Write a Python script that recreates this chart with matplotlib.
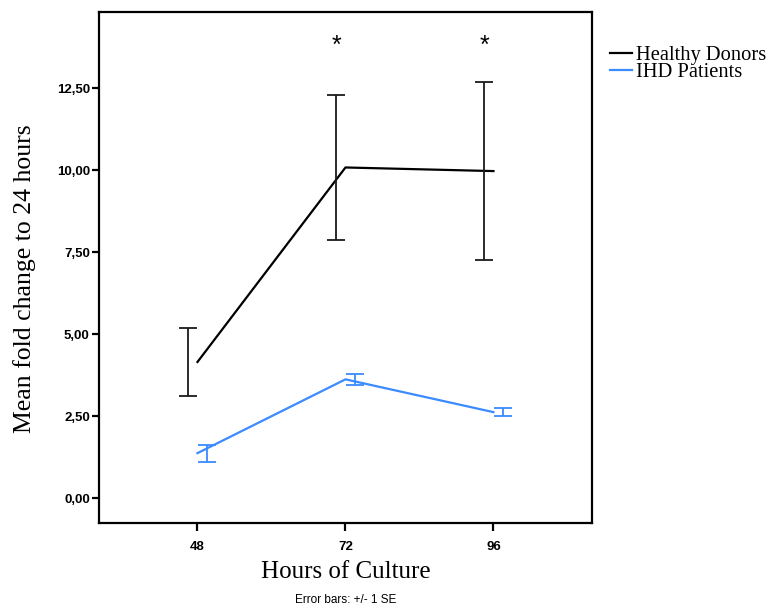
import matplotlib.pyplot as plt
import numpy as np

# data
hours = [48, 72, 96]
healthy_mean = [4.15, 10.08, 9.97]
healthy_se = [1.05, 2.21, 2.72]
ihd_mean = [1.37, 3.62, 2.62]
ihd_se = [0.26, 0.17, 0.12]
ytick_vals = [0.0, 2.5, 5.0, 7.5, 10.0, 12.5]
ytick_labels = ['0,00', '2,50', '5,00', '7,50', '10,00', '12,50']
star_hours = [72, 96]

black = '#000000'
blue = '#3a8bff'
dodge = 1.5

fig = plt.figure(figsize=(7.72, 6.07), dpi=100)
ax = fig.add_axes([0.128, 0.1384, 0.639, 0.8418])

hx = np.array(hours, dtype=float)
ax.plot(hx, healthy_mean, color=black, lw=1.6, label='Healthy Donors')
ax.plot(hx, ihd_mean, color=blue, lw=1.6, label='IHD Patients')
ax.errorbar(hx - dodge, healthy_mean, yerr=healthy_se, fmt='none',
            ecolor='#1a1a1a', elinewidth=1.3, capsize=6.8, capthick=1.3)
ax.errorbar(hx + dodge, ihd_mean, yerr=ihd_se, fmt='none',
            ecolor=blue, elinewidth=1.3, capsize=6.8, capthick=1.3)

for h in star_hours:
    ax.text(h - dodge, 13.8, '*', ha='center', va='center', fontsize=18,
            family='Liberation Sans')

ax.set_xlim(32, 112)
ax.set_ylim(-0.76, 14.82)
ax.set_xticks(hours)
ax.set_xticklabels([str(h) for h in hours])
ax.set_yticks(ytick_vals)
ax.set_yticklabels(ytick_labels)
for lab in ax.get_xticklabels() + ax.get_yticklabels():
    lab.set_family('Liberation Sans')
    lab.set_fontweight('bold')
    lab.set_fontsize(9.5)
ax.tick_params(axis='y', length=5, width=1.6, pad=1.5)
ax.tick_params(axis='x', length=6, width=1.6, pad=7)
for s in ax.spines.values():
    s.set_linewidth(1.6)

ax.set_ylabel('Mean fold change to 24 hours', family='Liberation Serif',
              fontsize=18.5)
ax.yaxis.set_label_coords(-0.128, 0.478)
ax.set_xlabel('Hours of Culture', family='Liberation Serif', fontsize=18)
ax.xaxis.set_label_coords(0.5, -0.074)

fig.text(0.448, 0.0115, 'Error bars: +/- 1 SE', family='Liberation Sans',
         fontsize=8.5, ha='center', va='center')

leg = ax.legend(loc='upper left', bbox_to_anchor=(0.79, 0.925),
                bbox_transform=fig.transFigure, frameon=False,
                prop={'family': 'Liberation Serif', 'size': 14.8},
                handlelength=1.1, handletextpad=0.15, borderpad=0,
                labelspacing=-0.1, borderaxespad=0)

plt.savefig('out.png', dpi=100)
